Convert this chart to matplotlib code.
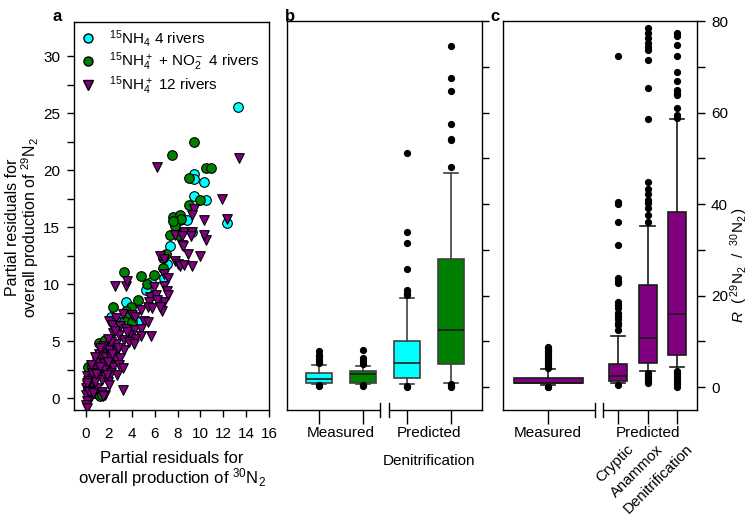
import numpy as np
import matplotlib
matplotlib.use('Agg')
import matplotlib.pyplot as plt
import matplotlib.transforms as mtransforms
from matplotlib.lines import Line2D

plt.rcParams['font.family'] = ['Liberation Sans', 'DejaVu Sans']
plt.rcParams['mathtext.fontset'] = 'custom'
plt.rcParams['mathtext.rm'] = 'Liberation Sans'
plt.rcParams['mathtext.it'] = 'Liberation Sans:italic'
plt.rcParams['mathtext.bf'] = 'Liberation Sans:bold'

# ---- panel a: partial residuals (x = 30N2, y = 29N2) ----
nh4_4_x = [13.3, 9.4, 9.4, 10.3, 9.4, 10.5, 8.85, 12.3, 7.9, 9.3, 8.1, 7.3, 7.1, 6.9, 6.8,
           5.5, 5.7, 5.2, 5.9, 3.5, 2.2, 3.8, 4.5, 3.0, 3.6, 1.3, 1.4, 1.1, 1.2, 2.0, 1.6, 0.6, 0.3]
nh4_4_y = [25.5, 19.7, 19.2, 19.0, 17.7, 17.4, 15.6, 15.4, 14.7, 14.6, 14.5, 13.3, 11.8, 10.6, 10.5,
           10.1, 10.2, 9.5, 9.0, 8.4, 7.1, 6.8, 6.7, 6.7, 6.5, 4.1, 3.5, 3.3, 3.6, 4.6, 3.9, 2.0, 1.2]

no2_4_x = [9.44, 7.5, 10.5, 10.9, 9.0, 9.97, 9.0, 7.6, 8.2, 8.2, 7.8, 8.3, 7.6, 7.3, 8.1,
           7.0, 6.75, 6.7, 3.3, 4.8, 5.9, 5.3, 4.5, 2.4, 3.9, 3.5, 3.6, 3.3, 4.0, 1.1,
           1.7, 1.4, 0.26, 0.7, 0.2, 0.55, 0.7, 1.1, 1.2, 1.4, 0.4, 1.0, 0.2]
no2_4_y = [22.5, 21.3, 20.2, 20.2, 19.3, 17.4, 16.9, 15.9, 16.1, 15.6, 15.1, 15.7, 15.5, 14.3, 14.3,
           12.6, 12.3, 11.4, 11.1, 10.7, 10.8, 10.0, 8.6, 8.0, 8.0, 7.6, 7.1, 6.8, 6.7, 4.8,
           5.1, 4.4, 2.7, 3.0, 2.7, 2.8, 0.4, 0.3, 0.2, 0.3, 1.6, 2.2, 0.9]

nh4_12_x = [13.4, 6.2, 11.9, 9.4, 9.3, 10.3, 12.3, 10.5, 10.3, 7.8, 8.6, 9.3, 8.4, 9.15, 8.4,
            8.5, 8.9, 10.0, 6.5, 6.8, 7.8, 8.0, 8.2, 8.6, 9.3, 6.8, 7.2, 2.5, 3.5, 3.6,
            5.9, 6.8, 5.6, 6.1, 7.1, 7.2, 5.5, 6.5, 6.8, 6.2, 4.8, 5.4, 5.8, 6.6, 6.5,
            2.0, 2.6, 3.2, 4.0, 4.3, 5.1, 5.4, 2.3, 3.0, 3.5, 4.2, 4.8, 4.8, 5.7, 4.3,
            3.8, 2.4, 2.9, 3.3, 3.8, 4.2, 2.6, 2.2, 1.6, 2.0, 2.7, 3.3, 1.7, 2.2, 2.6,
            3.0, 1.0, 1.6, 2.0, 2.4, 2.9, 3.2, 0.7, 1.3, 1.7, 2.2, 2.7, 0.1, 0.55, 1.0,
            1.4, 1.9, 2.0, 3.2, 0.1, 0.55, 1.0, 1.4, 1.7, 0.0, 0.0, 0.4, 0.1, 0.0, 1.5,
            0.06, 0.3, 0.8, 0.2, 0.5, 1.2, 1.9, 0.05, 0.25, 0.6,
            1.1, 1.5, 1.9, 2.5, 0.8, 1.2, 0.4, 0.9, 1.8, 2.3, 2.8, 3.6]
nh4_12_y = [21.1, 20.3, 17.5, 16.6, 16.1, 15.6, 15.7, 13.9, 14.3, 14.3, 14.6, 14.6, 14.2, 14.2, 13.4,
            13.3, 12.6, 12.5, 12.5, 12.2, 12.0, 11.8, 11.6, 11.7, 11.6, 10.9, 10.5, 9.8, 9.8, 10.3,
            9.7, 9.8, 8.9, 9.0, 9.4, 9.0, 8.4, 8.3, 8.4, 8.6, 7.7, 8.0, 7.9, 7.6, 8.0,
            6.8, 7.0, 7.4, 7.3, 7.1, 6.8, 6.7, 6.4, 6.3, 6.1, 6.0, 6.1, 5.4, 5.4, 5.2,
            5.5, 5.7, 5.5, 5.1, 4.9, 4.7, 4.7, 4.9, 4.2, 4.2, 4.1, 4.2, 3.6, 3.5, 3.3,
            3.5, 3.2, 3.0, 2.9, 2.7, 2.9, 2.6, 2.5, 2.3, 2.5, 2.2, 2.0, 1.9, 1.7, 1.9,
            1.6, 1.4, 1.1, 0.7, 1.1, 1.0, 0.85, 0.55, 0.26, 0.85, 0.26, 0.1, -0.3, -0.6, 0.2,
            -0.9, 0.6, 1.4, 1.5, 2.2, 2.7, 3.2, 1.3, 0.5, 0.4,
            3.9, 4.6, 5.2, 5.9, 3.6, 4.4, 2.9, 2.1, 2.0, 3.9, 4.4, 5.8]

# ---- panel b: R for 4 rivers (cyan = 15NH4, green = 15NH4+ + NO2-) ----
b_labels = ['Measured', 'Measured', 'Predicted', 'Predicted']
b_colors = ['#00ffff', '#008000', '#00ffff', '#008000']
b_whislo = [0.7, 0.6, 0.65, 0.95]
b_q1 = [1.0, 0.95, 1.9, 5.0]
b_med = [1.8, 2.8, 5.2, 12.5]
b_q3 = [3.0, 3.6, 10.0, 28.0]
b_whishi = [4.8, 4.6, 19.5, 46.7]
b_fliers = [[5.3, 5.8, 6.2, 6.7, 7.1, 7.9, 0.3, 0.5],
            [5.1, 5.6, 6.3, 8.2, 0.3, 0.5],
            [20.1, 20.6, 21.2, 25.8, 31.5, 34.0, 51.1, 0.3, 0.1],
            [48.2, 53.9, 54.2, 57.4, 64.8, 67.6, 74.6, 0.0, 0.3, 0.6]]

# ---- panel c: R for 12 rivers ----
c_labels = ['Measured', 'Cryptic', 'Anammox', 'Denitrification']
c_whislo = [0.5, 0.8, 3.6, 4.3]
c_q1 = [0.8, 1.3, 5.3, 7.1]
c_med = [1.0, 2.4, 10.8, 15.9]
c_q3 = [2.0, 5.0, 22.3, 38.2]
c_whishi = [3.9, 11.1, 35.2, 58.5]
c_fliers = [[4.2, 4.6, 5.0, 5.4, 5.8, 6.2, 6.6, 7.0, 7.4, 7.8, 8.2, 8.6, 8.8, 0.0, 0.1],
            [12.5, 13.5, 14.0, 14.8, 15.5, 16.3, 17.2, 18.0, 18.6, 22.7, 23.2, 23.8,
             31.0, 36.1, 40.0, 40.5, 72.4, 0.4],
            [36.1, 37.6, 39.1, 40.2, 40.9, 42.3, 43.4, 44.9, 58.5, 65.3, 71.5, 73.7,
             74.4, 75.3, 76.2, 77.3, 78.4, 3.0, 2.6, 2.2, 1.8, 1.4, 1.0],
            [58.9, 59.5, 60.9, 63.8, 64.3, 64.9, 66.9, 68.9, 72.4, 74.8, 76.7, 77.4,
             3.6, 3.0, 2.4, 1.8, 1.2, 0.6, 0.1]]

fig = plt.figure(figsize=(7.5, 5.15), dpi=100)
ax_a = fig.add_axes([0.0987, 0.2039, 0.26, 0.7534])
ax_b = fig.add_axes([0.3827, 0.2039, 0.26, 0.7553])
ax_c = fig.add_axes([0.6707, 0.2039, 0.2587, 0.7553])

# ---------- a ----------
mk = dict(s=48, edgecolors='black', linewidths=0.8)
ax_a.scatter(nh4_4_x, nh4_4_y, marker='o', c='#00ffff', **mk)
ax_a.scatter(no2_4_x, no2_4_y, marker='o', c='#008000', **mk)
ax_a.scatter(nh4_12_x, nh4_12_y, marker='v', c='#800080', **mk)
ax_a.set_xlim(-1.05, 16)
ax_a.set_ylim(-1.05, 33)
ax_a.set_xticks(np.arange(0, 17, 2))
ax_a.set_yticks(np.arange(0, 31, 5))
ax_a.set_yticks(np.arange(2.5, 31, 5), minor=True)
ax_a.tick_params(axis='both', which='both', direction='out', length=5, labelsize=11, width=1)
ax_a.tick_params(axis='x', pad=7)
ax_a.tick_params(axis='y', pad=5)
ax_a.set_xlabel('Partial residuals for\noverall production of $^{30}$N$_2$', fontsize=12, linespacing=1.05)
ax_a.xaxis.set_label_coords(0.5, -0.105)
ax_a.xaxis.label.set_verticalalignment('top')
ax_a.set_ylabel('Partial residuals for\noverall production of $^{29}$N$_2$', fontsize=11.5, linespacing=0.95)
ax_a.yaxis.set_label_coords(-0.262, 0.47)
ax_a.yaxis.label.set_verticalalignment('center')

handles = [Line2D([], [], ls='none', marker='o', mfc='#00ffff', mec='black', ms=6.5),
           Line2D([], [], ls='none', marker='o', mfc='#008000', mec='black', ms=6.5),
           Line2D([], [], ls='none', marker='v', mfc='#800080', mec='black', ms=6.5)]
leg_labels = [r'$^{15}$NH$_4$ 4 rivers',
              r'$^{15}$NH$_4^+$ + NO$_2^-$ 4 rivers',
              r'$^{15}$NH$_4^+$ 12 rivers']
ax_a.legend(handles, leg_labels, loc='upper left', frameon=False, fontsize=11,
            handletextpad=0.9, borderaxespad=0.1, labelspacing=0.1, handlelength=1.0,
            borderpad=0.3)


def draw_boxes(ax, positions, widths, whislo, q1, med, q3, whishi, fliers, colors, lc):
    stats = []
    for i in range(len(positions)):
        stats.append(dict(whislo=whislo[i], q1=q1[i], med=med[i], q3=q3[i],
                          whishi=whishi[i], fliers=fliers[i]))
    bp = ax.bxp(stats, positions=positions, widths=widths, patch_artist=True,
                manage_ticks=False,
                boxprops=dict(edgecolor=lc, linewidth=1.2),
                whiskerprops=dict(color=lc, linewidth=1.2),
                capprops=dict(color=lc, linewidth=1.2),
                medianprops=dict(color='#1a1a1a', linewidth=1.2),
                flierprops=dict(marker='o', markerfacecolor='black', markeredgecolor='black',
                                markersize=4.2))
    for patch, col in zip(bp['boxes'], colors):
        patch.set_facecolor(col)
    return bp


def broken_bottom(ax, x0, x1, brk_a, brk_b):
    trans = mtransforms.blended_transform_factory(ax.transData, ax.transAxes)
    ax.spines['bottom'].set_visible(False)
    ax.plot([x0, brk_a], [0, 0], color='black', lw=1, transform=trans, clip_on=False)
    ax.plot([brk_b, x1], [0, 0], color='black', lw=1, transform=trans, clip_on=False)
    for xb in (brk_a, brk_b):
        ax.plot([xb, xb], [-0.018, 0.018], color='black', lw=1, transform=trans, clip_on=False)


def set_cap_width(bp, half):
    for cap in bp['caps']:
        xd = cap.get_xdata()
        c0 = (xd[0] + xd[1]) / 2
        cap.set_xdata([c0 - half, c0 + half])


# ---------- b ----------
b_pos = [1, 2, 3, 4]
bp_b = draw_boxes(ax_b, b_pos, [0.6] * 4, b_whislo, b_q1, b_med, b_q3, b_whishi, b_fliers,
                  b_colors, '#404040')
set_cap_width(bp_b, 0.16)
ax_b.set_xlim(0.27, 4.70)
ax_b.set_ylim(-5, 80)
ax_b.yaxis.tick_right()
ax_b.set_yticks(np.arange(0, 81, 10))
ax_b.tick_params(axis='y', which='both', direction='out', length=5, labelright=False, width=1)
ax_b.set_xticks(b_pos)
ax_b.set_xticklabels([])
ax_b.tick_params(axis='x', direction='out', length=10, width=1)
broken_bottom(ax_b, 0.27, 4.70, 2.39, 2.59)
trans_b = mtransforms.blended_transform_factory(ax_b.transData, ax_b.transAxes)
ax_b.text(1.5, -0.06, b_labels[0], transform=trans_b, ha='center', va='center', fontsize=11)
ax_b.text(3.5, -0.06, b_labels[2], transform=trans_b, ha='center', va='center', fontsize=11)
ax_b.text(3.5, -0.13, 'Denitrification', transform=trans_b, ha='center', va='center', fontsize=11)

# ---------- c ----------
c_pos = [0.63, 3, 4, 5]
c_w = [2.34, 0.61, 0.61, 0.61]
bp_c = draw_boxes(ax_c, c_pos, c_w, c_whislo, c_q1, c_med, c_q3, c_whishi, c_fliers,
                  ['#800080'] * 4, '#1a1a1a')
set_cap_width(bp_c, 0.24)
ax_c.set_xlim(-0.9, 5.68)
ax_c.set_ylim(-5, 80)
ax_c.yaxis.tick_right()
ax_c.yaxis.set_label_position('right')
ax_c.set_yticks(np.arange(0, 81, 20))
ax_c.set_yticks(np.arange(10, 81, 20), minor=True)
ax_c.tick_params(axis='y', which='both', direction='out', length=6, labelsize=11, width=1, pad=4)
ax_c.set_xticks(c_pos)
ax_c.set_xticklabels([])
ax_c.tick_params(axis='x', direction='out', length=10, width=1)
broken_bottom(ax_c, -0.9, 5.68, 2.22, 2.49)
trans_c = mtransforms.blended_transform_factory(ax_c.transData, ax_c.transAxes)
ax_c.text(c_pos[0], -0.06, c_labels[0], transform=trans_c, ha='center', va='center', fontsize=11)
ax_c.text(4, -0.06, 'Predicted', transform=trans_c, ha='center', va='center', fontsize=11)
for p, lab in zip(c_pos[1:], c_labels[1:]):
    ax_c.text(p + 0.45, -0.095, lab, transform=trans_c, ha='right', va='center',
              rotation=45, rotation_mode='anchor', fontsize=10.8)
ax_c.set_ylabel(r'$R\ \ (\,^{29}\mathrm{N}_2\ \ /\ \ ^{30}\mathrm{N}_2\,)$', fontsize=11)
ax_c.yaxis.set_label_coords(1.215, 0.373)
ax_c.yaxis.label.set_verticalalignment('center')

for ax in (ax_a, ax_b, ax_c):
    for s in ax.spines.values():
        s.set_linewidth(1)

fig.text(0.076, 0.983, 'a', fontsize=12, fontweight='bold', va='top', ha='center')
fig.text(0.386, 0.983, 'b', fontsize=12, fontweight='bold', va='top', ha='center')
fig.text(0.660, 0.983, 'c', fontsize=12, fontweight='bold', va='top', ha='center')

fig.savefig('out.png', dpi=100)
